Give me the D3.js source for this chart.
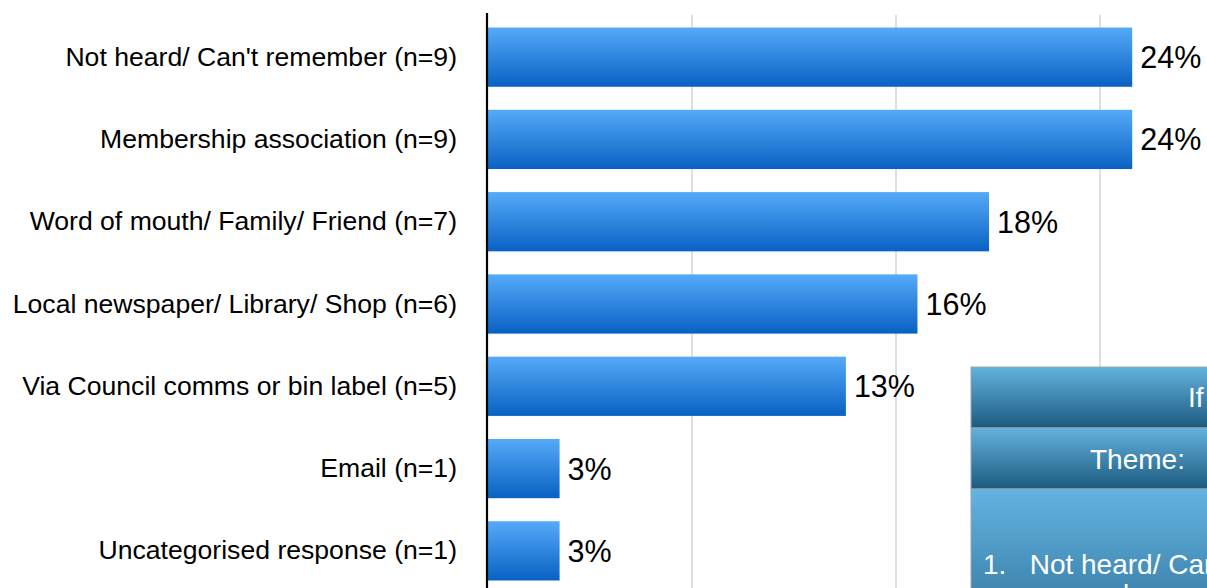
<!DOCTYPE html>
<html>
<head>
<meta charset="utf-8">
<script src="https://cdn.jsdelivr.net/npm/d3@7"></script>
<style>
  html, body { margin: 0; padding: 0; background: #fff; overflow: hidden; }
  svg { display: block; font-family: "Liberation Sans", Arial, Helvetica, sans-serif; }
</style>
</head>
<body>
<svg id="chart" width="1207" height="588"></svg>
<script>
  const categories = [
    "Not heard/ Can't remember (n=9)",
    'Membership association (n=9)',
    'Word of mouth/ Family/ Friend (n=7)',
    'Local newspaper/ Library/ Shop (n=6)',
    'Via Council comms or bin label (n=5)',
    'Email (n=1)',
    'Uncategorised response (n=1)'
  ];
  const counts = [9, 9, 7, 6, 5, 1, 1];
  const shares = counts.map(n => n / 38);
  const valueLabels = ['24%', '24%', '18%', '16%', '13%', '3%', '3%'];
  const xTicks = [0.075, 0.15, 0.225, 0.3];

  // overlay table (cropped at the right edge of the slide)
  const tableRows = ['If', 'Theme:', '1.   Not heard/ Can\'t', 'remember'];

  const svg = d3.select('#chart');
  const defs = svg.append('defs');

  const barGrad = defs.append('linearGradient')
    .attr('id', 'barGrad').attr('x1', 0).attr('y1', 0).attr('x2', 0).attr('y2', 1);
  barGrad.append('stop').attr('offset', '0%').attr('stop-color', '#55aaf8');
  barGrad.append('stop').attr('offset', '100%').attr('stop-color', '#0861c3');

  const headGrad = defs.append('linearGradient')
    .attr('id', 'headGrad').attr('x1', 0).attr('y1', 0).attr('x2', 0).attr('y2', 1);
  headGrad.append('stop').attr('offset', '0%').attr('stop-color', '#62b2de');
  headGrad.append('stop').attr('offset', '100%').attr('stop-color', '#1c5a7f');

  const bodyGrad = defs.append('linearGradient')
    .attr('id', 'bodyGrad').attr('x1', 0).attr('y1', 0).attr('x2', 0).attr('y2', 1);
  bodyGrad.append('stop').attr('offset', '0%').attr('stop-color', '#64b3e2');
  bodyGrad.append('stop').attr('offset', '100%').attr('stop-color', '#2f7199');

  const x = d3.scaleLinear().domain([0, 0.3]).range([488, 1304]);
  const y = d3.scaleBand().domain(categories).range([16, 592])
    .paddingInner(0.28).paddingOuter(0.14);

  // Gridlines
  svg.append('g')
    .selectAll('line')
    .data(xTicks)
    .enter()
    .append('line')
    .attr('x1', d => x(d)).attr('x2', d => x(d))
    .attr('y1', 15).attr('y2', 600)
    .attr('stroke', '#d4d4d4')
    .attr('stroke-width', 1.5);

  // Bars
  svg.append('g')
    .selectAll('rect')
    .data(categories)
    .enter()
    .append('rect')
    .attr('x', x(0))
    .attr('y', d => y(d))
    .attr('width', (d, i) => x(shares[i]) - x(0))
    .attr('height', y.bandwidth())
    .attr('fill', 'url(#barGrad)');

  // Value labels
  svg.append('g')
    .selectAll('text')
    .data(categories)
    .enter()
    .append('text')
    .attr('x', (d, i) => x(shares[i]) + 8)
    .attr('y', d => y(d) + y.bandwidth() / 2)
    .attr('dy', '0.36em')
    .style('font-size', '30.5px')
    .attr('fill', '#000')
    .text((d, i) => valueLabels[i]);

  // Category axis
  const yAxis = svg.append('g')
    .attr('transform', `translate(${x(0) - 1},0)`)
    .call(d3.axisLeft(y).tickSize(0).tickPadding(30));
  yAxis.select('.domain').remove();
  yAxis.selectAll('text')
    .style('font-size', '26.6px')
    .attr('fill', '#000');
  yAxis.attr('font-family', null).attr('font-size', null);

  svg.append('line')
    .attr('x1', 487).attr('x2', 487)
    .attr('y1', 13).attr('y2', 600)
    .attr('stroke', '#000')
    .attr('stroke-width', 2.2);

  // Overlay table
  const tX = 971;
  const rowTops = [367, 428, 489];
  const rowHeights = [61, 61, 150];
  const table = svg.append('g');
  table.selectAll('rect')
    .data(rowTops)
    .enter()
    .append('rect')
    .attr('x', tX)
    .attr('y', d => d)
    .attr('width', 260)
    .attr('height', (d, i) => rowHeights[i])
    .attr('fill', (d, i) => i < 2 ? 'url(#headGrad)' : 'url(#bodyGrad)')
    .attr('stroke', '#9aa7b0')
    .attr('stroke-width', 1);

  table.append('text')
    .attr('x', 1188).attr('y', 407)
    .attr('fill', '#fff').style('font-size', '28px')
    .text(tableRows[0]);
  table.append('text')
    .attr('x', 1090).attr('y', 469)
    .attr('fill', '#fff').style('font-size', '28px')
    .text(tableRows[1]);
  table.append('text')
    .attr('x', 983).attr('y', 574)
    .attr('fill', '#fff').style('font-size', '28px')
    .style('white-space', 'pre')
    .text(tableRows[2]);
  table.append('text')
    .attr('x', 1036).attr('y', 604)
    .attr('fill', '#fff').style('font-size', '28px')
    .text(tableRows[3]);
</script>
</body>
</html>
